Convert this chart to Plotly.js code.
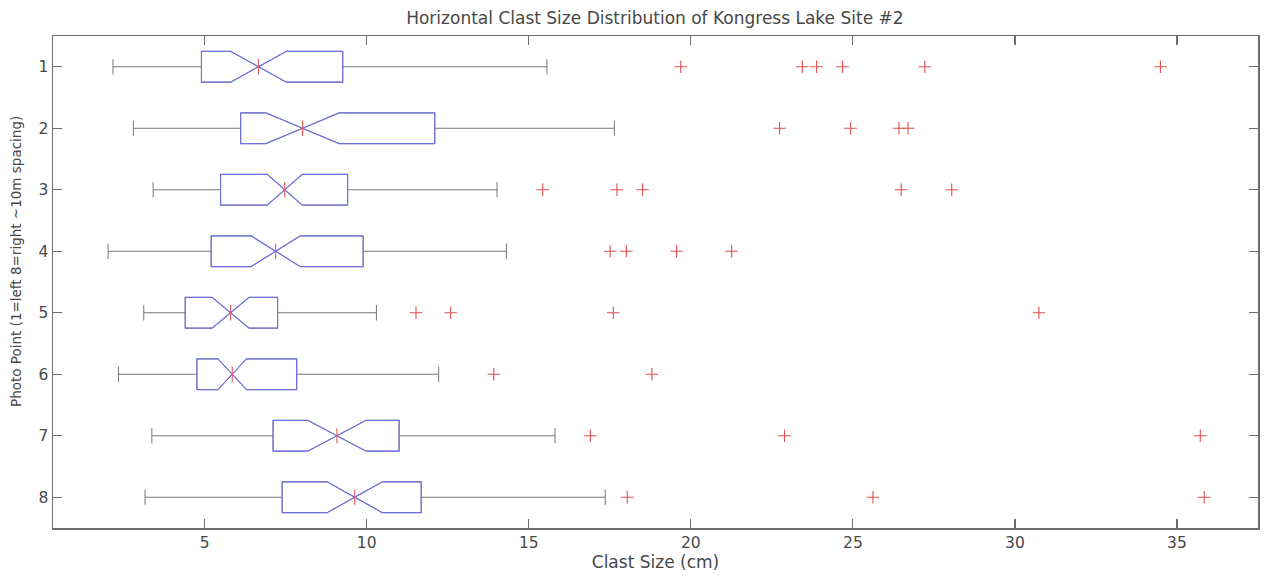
<!DOCTYPE html>
<html>
<head>
<meta charset="utf-8">
<script src="https://cdn.plot.ly/plotly-3.0.1.min.js"></script>
<style>html,body{margin:0;padding:0;background:#fff;}#chart{width:1265px;height:581px;}</style>
</head>
<body>
<div id="chart"></div>
<script>
// Photo points (categories)
const points = [1, 2, 3, 4, 5, 6, 7, 8];
// Box statistics (clast size, cm)
const lowerWhisker = [2.17, 2.80, 3.41, 2.02, 3.12, 2.34, 3.37, 3.16];
const q1 = [4.90, 6.11, 5.49, 5.20, 4.40, 4.76, 7.11, 7.39];
const median = [6.66, 8.02, 7.47, 7.19, 5.80, 5.85, 9.08, 9.63];
const q3 = [9.26, 12.10, 9.41, 9.89, 7.25, 7.84, 11.00, 11.68];
const upperWhisker = [15.56, 17.64, 14.02, 14.31, 10.30, 12.22, 15.81, 17.36];
const notchHalf = [0.86, 1.13, 0.54, 0.76, 0.57, 0.44, 0.90, 0.85];
// Outliers per photo point
const outliers1 = [19.69, 23.44, 23.88, 24.68, 27.22, 34.49];
const outliers2 = [22.74, 24.93, 26.42, 26.70];
const outliers3 = [15.43, 17.72, 18.51, 26.49, 28.05];
const outliers4 = [17.51, 18.01, 19.56, 21.26];
const outliers5 = [11.52, 12.59, 17.61, 30.74];
const outliers6 = [13.92, 18.80];
const outliers7 = [16.90, 22.89, 35.72];
const outliers8 = [18.04, 25.62, 35.84];
const outlierGroups = [outliers1, outliers2, outliers3, outliers4, outliers5, outliers6, outliers7, outliers8];
const xTicks = [5, 10, 15, 20, 25, 30, 35];

const BOX_W = 0.5, NOTCH_W = 0.5;
const FONT = 'DejaVu Sans, Liberation Sans, sans-serif';

const whiskerTrace = {
  type: 'box', orientation: 'h', y: points,
  q1: q1, median: median, q3: q3,
  lowerfence: lowerWhisker, upperfence: upperWhisker,
  notched: true, notchspan: notchHalf, notchwidth: NOTCH_W,
  width: BOX_W, whiskerwidth: 0.5, boxpoints: false,
  line: {color: '#777777', width: 1}, fillcolor: 'rgba(0,0,0,0)',
  hoverinfo: 'skip', showlegend: false
};
const boxTrace = {
  type: 'box', orientation: 'h', y: points,
  q1: q1, median: median, q3: q3,
  lowerfence: q1, upperfence: q3,
  notched: true, notchspan: notchHalf, notchwidth: NOTCH_W,
  width: BOX_W, whiskerwidth: 0, boxpoints: false,
  line: {color: '#7070e4', width: 1.1}, fillcolor: 'rgba(0,0,0,0)',
  hoverinfo: 'skip', showlegend: false
};
const medX = [], medY = [];
const half = BOX_W / 2 * (1 - NOTCH_W);
points.forEach((p, i) => { medX.push(median[i], median[i], null); medY.push(p - half, p + half, null); });
const medianTrace = {
  type: 'scatter', mode: 'lines', x: medX, y: medY,
  line: {color: '#e25a5a', width: 1.1}, hoverinfo: 'skip', showlegend: false
};
const ox = [], oy = [];
outlierGroups.forEach((g, i) => g.forEach(v => { ox.push(v); oy.push(points[i]); }));
const outlierTrace = {
  type: 'scatter', mode: 'markers', x: ox, y: oy,
  marker: {symbol: 'cross-thin', size: 9, line: {color: '#e05050', width: 1.1}},
  hoverinfo: 'skip', showlegend: false
};

const axisCommon = {
  showline: true, linecolor: '#6e6e6e', linewidth: 1.5, mirror: 'allticks',
  ticks: 'inside', ticklen: 9, tickcolor: '#6e6e6e', tickwidth: 1.2,
  showgrid: false, zeroline: false, fixedrange: true,
  tickfont: {family: FONT, size: 15.5, color: '#484848'}
};

const layout = {
  width: 1265, height: 581,
  margin: {l: 53, r: 7, t: 36, b: 53},
  paper_bgcolor: '#fff', plot_bgcolor: '#fff',
  font: {family: FONT, color: '#484848'},
  title: {text: 'Horizontal Clast Size Distribution of Kongress Lake Site #2',
    font: {family: FONT, size: 17, color: '#484848'}, x: 0.5177, xanchor: 'center',
    yref: 'container', y: 1 - 18 / 581, yanchor: 'middle'},
  xaxis: Object.assign({}, axisCommon, {
    range: [0.32, 37.5], tickvals: xTicks, ticktext: xTicks.map(String),
    title: {text: 'Clast Size (cm)', font: {family: FONT, size: 17, color: '#484848'}, standoff: 3}
  }),
  yaxis: Object.assign({}, axisCommon, {
    range: [8.5, 0.5], tickvals: points, ticktext: points.map(String)
  }),
  annotations: [{
    text: 'Photo Point (1=left 8=right ~10m spacing)',
    xref: 'paper', yref: 'paper', x: 0, y: 0.5, xanchor: 'center', yanchor: 'middle',
    xshift: -37, yshift: 20, textangle: -90, showarrow: false,
    font: {family: FONT, size: 13.5, color: '#484848'}
  }],
  boxmode: 'overlay',
  showlegend: false
};

Plotly.newPlot('chart', [whiskerTrace, boxTrace, medianTrace, outlierTrace], layout, {displayModeBar: false, staticPlot: true});
</script>
</body>
</html>
